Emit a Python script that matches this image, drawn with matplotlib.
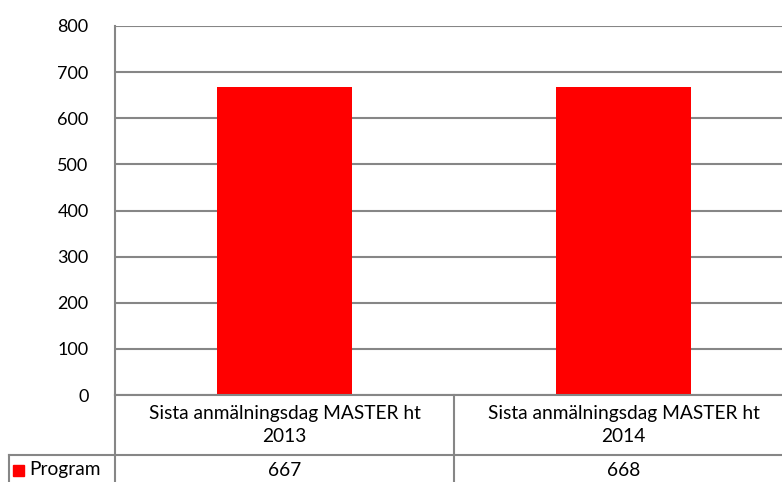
import matplotlib.pyplot as plt
from matplotlib.lines import Line2D
from matplotlib.patches import Rectangle

plt.rcParams['font.family'] = ['Lato', 'DejaVu Sans']

categories = ['Sista anmälningsdag MASTER ht\n2013', 'Sista anmälningsdag MASTER ht\n2014']
values = [667, 668]
series_name = 'Program'
yticks = [0, 100, 200, 300, 400, 500, 600, 700, 800]

W, H = 782, 482
grid_col = '#868686'
bar_col = '#ff0000'

fig = plt.figure(figsize=(W / 100, H / 100), dpi=100)

# pixel helpers (top-left origin)
def fx(px):
    return px / W

def fy(py):
    return 1 - py / H

left, right, top, bottom = 115, 793, 26, 395
ax = fig.add_axes([fx(left), fy(bottom), fx(right - left), fy(top) - fy(bottom)])
ncat = len(categories)
xs = [i + 0.5 for i in range(ncat)]
ax.bar(xs, values, width=0.4, color=bar_col, zorder=3)
ax.set_xlim(0, ncat)
ax.set_ylim(0, 800)
ax.set_yticks(yticks)
ax.set_xticks([])
ax.yaxis.grid(True, color=grid_col, linewidth=1.5)
ax.set_axisbelow(True)
for s in ['top', 'right', 'bottom']:
    ax.spines[s].set_visible(False)
ax.spines['left'].set_color(grid_col)
ax.spines['left'].set_linewidth(1.5)
ax.tick_params(axis='y', length=0, pad=19, labelsize=13)

# data table lines
def hline(y, x0, x1):
    fig.add_artist(Line2D([fx(x0), fx(x1)], [fy(y), fy(y)], color=grid_col, lw=1.5))

def vline(x, y0, y1):
    fig.add_artist(Line2D([fx(x), fx(x)], [fy(y0), fy(y1)], color=grid_col, lw=1.5))

col_w = (right - left) / ncat
hline(bottom, left, W)
hline(455, 9, W)
vline(left, bottom, H)
vline(9, 455, H)
for i in range(1, ncat):
    vline(left + i * col_w, bottom, H)

fs = 13.8
for i, (cat, v) in enumerate(zip(categories, values)):
    cx = left + (i + 0.5) * col_w
    fig.text(fx(cx), fy(425), cat, ha='center', va='center', fontsize=fs,
             linespacing=1.45)
    fig.text(fx(cx), fy(470), str(v), ha='center', va='center', fontsize=fs)

fig.add_artist(Rectangle((fx(13), fy(476)), fx(11), fy(465) - fy(476),
                         color=bar_col, transform=fig.transFigure))
fig.text(fx(29), fy(470), series_name, ha='left', va='center', fontsize=fs)

fig.savefig('out.png', dpi=100)
